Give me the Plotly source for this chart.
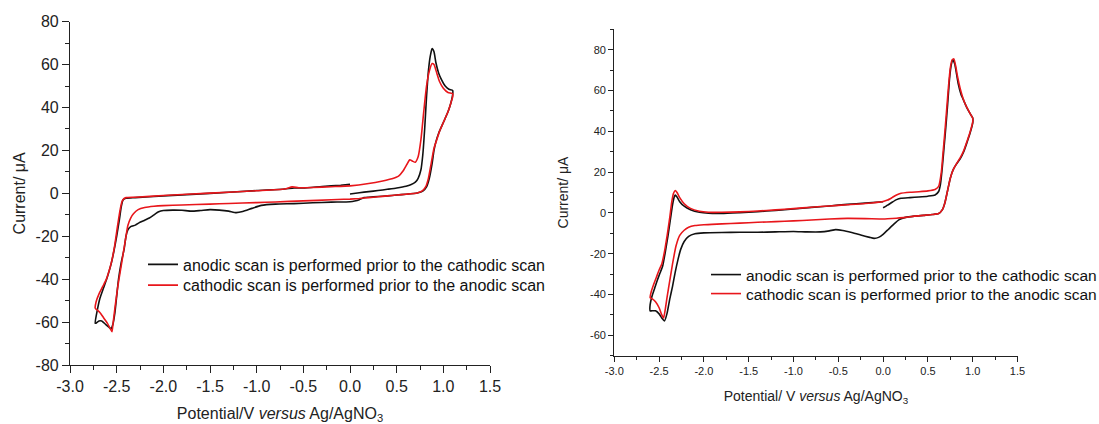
import plotly.graph_objects as go

# ---------------- Left panel data ----------------
left_black_v = [0.00, 0.10, 0.20, 0.30, 0.40, 0.50, 0.60, 0.65, 0.70, 0.73, 0.76, 0.78, 0.80, 0.82, 0.84, 0.86, 0.88, 0.90, 0.92, 0.95, 0.98, 1.02, 1.06, 1.10,
                1.10, 1.08, 1.05, 1.00, 0.95, 0.92, 0.90, 0.88, 0.85, 0.82, 0.78, 0.72, 0.60, 0.50, 0.40, 0.30, 0.20, 0.15, 0.10, 0.05, 0.00,
                -0.20, -0.40, -0.60, -0.80, -0.95, -1.05, -1.15, -1.22, -1.30, -1.40, -1.50, -1.60, -1.70, -1.80, -1.90, -2.00, -2.05, -2.10, -2.15, -2.20, -2.25, -2.30, -2.35, -2.38, -2.40, -2.42, -2.45, -2.48, -2.50, -2.52, -2.54, -2.56, -2.58, -2.62, -2.66, -2.69, -2.72, -2.73,
                -2.71, -2.68, -2.64, -2.60, -2.56, -2.53, -2.50, -2.47, -2.45, -2.43, -2.40, -2.30, -2.00, -1.50, -1.00, -0.70, -0.60, -0.50, -0.30, -0.10, 0.00]
left_black_i = [-0.3, 0.3, 0.8, 1.3, 1.9, 2.5, 3.3, 4.0, 5.2, 7.0, 11.0, 18.0, 30.0, 45.0, 57.0, 64.0, 67.5, 66.0, 61.0, 56.0, 53.0, 50.0, 48.5, 48.0,
                46.0, 42.0, 38.0, 33.0, 28.0, 24.0, 20.0, 14.0, 7.0, 3.0, 1.0, 0.2, -0.4, -0.8, -1.2, -1.5, -1.8, -2.0, -3.0, -3.6, -3.9,
                -4.1, -4.4, -4.8, -5.0, -5.6, -7.0, -8.5, -9.0, -8.3, -7.8, -7.6, -8.0, -8.3, -7.9, -7.8, -8.0, -8.6, -10.0, -11.5, -12.5, -13.5, -14.8, -15.5, -17.0, -20.0, -26.0, -32.0, -40.0, -48.0, -56.0, -61.0, -63.0, -62.5, -61.0, -59.5, -59.5, -60.5, -60.5,
                -55.0, -49.0, -44.0, -39.0, -33.0, -27.0, -20.0, -12.0, -6.0, -3.0, -2.3, -2.0, -1.2, 0.0, 1.3, 2.0, 2.5, 2.5, 3.2, 3.8, 4.2]

left_red_v = [0.00, -0.20, -0.50, -0.80, -1.00, -1.30, -1.50, -1.80, -2.00, -2.10, -2.20, -2.27, -2.32, -2.35, -2.38, -2.40, -2.43, -2.46, -2.49, -2.52, -2.54, -2.55, -2.57, -2.60, -2.64, -2.68, -2.72, -2.73,
              -2.72, -2.69, -2.65, -2.61, -2.58, -2.55, -2.52, -2.49, -2.46, -2.44, -2.42, -2.40, -2.30, -2.00, -1.50, -1.00, -0.70, -0.62, -0.55, -0.40, -0.20, 0.00, 0.20, 0.35, 0.45, 0.52, 0.57, 0.61, 0.64, 0.67, 0.70, 0.73, 0.76, 0.79, 0.82, 0.85, 0.88, 0.90, 0.93, 0.96, 1.00, 1.05, 1.10,
              1.10, 1.08, 1.05, 1.00, 0.96, 0.93, 0.90, 0.87, 0.84, 0.81, 0.77, 0.72, 0.60, 0.50, 0.40, 0.30, 0.20, 0.10, 0.00]
left_red_i = [-2.6, -3.0, -3.5, -4.0, -4.3, -4.7, -5.0, -5.4, -5.7, -6.0, -6.6, -7.6, -9.5, -11.5, -15.0, -20.0, -28.0, -36.0, -44.0, -54.0, -61.0, -64.5, -63.0, -60.5, -58.0, -55.5, -54.0, -53.5,
              -50.5, -47.0, -43.5, -40.0, -36.0, -31.0, -24.0, -15.0, -7.0, -3.5, -2.4, -2.0, -1.8, -1.0, 0.1, 1.2, 2.0, 3.0, 2.6, 2.7, 3.1, 3.5, 4.6, 5.8, 6.8, 8.0, 10.5, 13.5, 15.6, 15.0, 14.5, 17.0, 25.0, 38.0, 50.0, 57.0, 60.5, 60.0, 56.0, 52.0, 49.0, 47.0, 46.5,
              45.0, 42.0, 38.0, 33.0, 29.0, 25.0, 21.0, 14.0, 7.0, 3.0, 1.0, 0.2, -0.4, -0.8, -1.2, -1.6, -2.0, -2.4, -2.7]

# ---------------- Right panel data ----------------
right_black_v = [0.00, 0.05, 0.10, 0.15, 0.20, 0.30, 0.40, 0.50, 0.58, 0.62, 0.64, 0.66, 0.68, 0.70, 0.72, 0.74, 0.76, 0.78, 0.80, 0.82, 0.84, 0.87, 0.90, 0.93, 0.96, 1.00,
                 1.00, 0.97, 0.94, 0.90, 0.86, 0.82, 0.78, 0.75, 0.72, 0.69, 0.66, 0.62, 0.55, 0.45, 0.35, 0.25, 0.18, 0.12, 0.06, 0.00, -0.05, -0.10, -0.15, -0.25, -0.35, -0.45, -0.53, -0.60, -0.70, -0.85, -1.00, -1.20, -1.40, -1.60, -1.80, -2.00, -2.10, -2.17, -2.22, -2.26, -2.29, -2.32, -2.35, -2.38, -2.41, -2.44, -2.47, -2.50, -2.54, -2.58, -2.60,
                 -2.60, -2.58, -2.55, -2.52, -2.49, -2.46, -2.43, -2.40, -2.37, -2.35, -2.33, -2.32, -2.30, -2.27, -2.22, -2.15, -2.05, -1.95, -1.80, -1.60, -1.40, -1.20, -1.00, -0.80, -0.60, -0.40, -0.20, 0.00]
right_black_i = [2.5, 3.8, 5.2, 6.5, 7.2, 7.5, 7.8, 8.2, 8.8, 10.5, 14.0, 22.0, 32.0, 42.0, 53.0, 65.0, 72.5, 75.0, 73.0, 68.0, 63.0, 58.0, 55.0, 52.0, 49.5, 46.5,
                 44.0, 39.0, 35.0, 30.0, 26.5, 24.0, 21.0, 17.0, 11.0, 5.0, 1.5, -0.3, -0.8, -1.2, -1.6, -2.2, -3.3, -5.5, -8.0, -10.5, -12.0, -12.5, -12.0, -10.8, -9.6, -8.6, -8.2, -8.8, -9.3, -9.3, -9.1, -9.3, -9.5, -9.5, -9.6, -9.8, -10.2, -11.5, -14.0, -18.0, -23.0, -29.0, -36.0, -42.0, -49.0, -53.0, -51.5, -49.5, -48.0, -48.0, -48.0,
                 -45.0, -41.0, -37.0, -33.0, -29.5, -26.0, -19.0, -11.0, -2.0, 4.0, 8.0, 8.7, 7.8, 5.5, 3.3, 1.6, 0.3, -0.2, -0.3, 0.1, 0.6, 1.2, 1.9, 2.7, 3.4, 4.2, 4.8, 5.5]

right_red_v = [0.00, -0.20, -0.40, -0.60, -0.80, -1.00, -1.20, -1.40, -1.60, -1.80, -2.00, -2.10, -2.17, -2.22, -2.27, -2.31, -2.35, -2.38, -2.41, -2.43, -2.45, -2.47, -2.50, -2.54, -2.58, -2.60,
               -2.59, -2.56, -2.53, -2.50, -2.47, -2.44, -2.41, -2.38, -2.36, -2.34, -2.32, -2.30, -2.27, -2.22, -2.15, -2.05, -1.95, -1.80, -1.60, -1.40, -1.20, -1.00, -0.80, -0.60, -0.40, -0.20, 0.00, 0.05, 0.10, 0.15, 0.20, 0.30, 0.40, 0.50, 0.58, 0.62, 0.65, 0.67, 0.69, 0.71, 0.73, 0.75, 0.77, 0.79, 0.81, 0.83, 0.86, 0.89, 0.92, 0.95, 0.98, 1.00,
               1.00, 0.97, 0.94, 0.90, 0.86, 0.82, 0.78, 0.75, 0.72, 0.69, 0.66, 0.62, 0.55, 0.45, 0.35, 0.25, 0.15, 0.05, 0.00]
right_red_i = [-3.0, -2.8, -2.7, -3.0, -3.5, -3.9, -4.3, -4.6, -5.0, -5.4, -5.8, -6.2, -7.0, -8.5, -11.0, -16.0, -25.0, -33.0, -41.0, -47.0, -51.5, -50.0, -46.5, -43.5, -42.0, -41.5,
               -39.0, -35.0, -31.5, -28.0, -25.0, -19.0, -11.0, -2.0, 5.0, 9.5, 11.0, 10.0, 7.5, 4.5, 2.2, 0.8, 0.3, 0.3, 0.5, 0.9, 1.5, 2.1, 2.8, 3.4, 4.0, 4.6, 5.6, 6.3, 7.5, 8.8, 9.6, 10.1, 10.4, 10.8, 11.5, 13.0, 20.0, 30.0, 40.0, 51.0, 62.0, 71.0, 75.0, 75.5, 72.0, 67.0, 61.0, 56.5, 53.0, 50.5, 48.0, 46.5,
               44.5, 39.5, 35.5, 30.5, 27.0, 24.2, 21.0, 17.0, 11.0, 5.0, 1.5, -0.3, -0.8, -1.2, -1.6, -2.2, -2.6, -2.9, -3.0]

# ---------------- Tick labels and texts ----------------
x_tick_vals = [-3.0, -2.5, -2.0, -1.5, -1.0, -0.5, 0.0, 0.5, 1.0, 1.5]
x_tick_text = ["-3.0", "-2.5", "-2.0", "-1.5", "-1.0", "-0.5", "0.0", "0.5", "1.0", "1.5"]
yl_tick_vals = [-80, -60, -40, -20, 0, 20, 40, 60, 80]
yl_tick_text = ["-80", "-60", "-40", "-20", "0", "20", "40", "60", "80"]
yr_tick_vals = [-60, -40, -20, 0, 20, 40, 60, 80]
yr_tick_text = ["-60", "-40", "-20", "0", "20", "40", "60", "80"]

legend_labels = ["anodic scan is performed prior to the cathodic scan",
                 "cathodic scan is performed prior to the anodic scan"]
x_title_left = "Potential/V <i>versus</i> Ag/AgNO<sub>3</sub>"
x_title_right = "Potential/ V <i>versus</i> Ag/AgNO<sub>3</sub>"
y_title = "Current/ \u03bcA"

BLACK = "#111111"
RED = "#e8161b"
FONT = "Liberation Sans, Arial, sans-serif"
AXC = "#222222"

fig = go.Figure()
traces = [
    (left_black_v, left_black_i, BLACK, legend_labels[0], "x", "y", "legend"),
    (left_red_v, left_red_i, RED, legend_labels[1], "x", "y", "legend2"),
    (right_black_v, right_black_i, BLACK, legend_labels[0], "x2", "y2", "legend3"),
    (right_red_v, right_red_i, RED, legend_labels[1], "x2", "y2", "legend4"),
]
for xv, yv, col, name, xa, ya, lg in traces:
    fig.add_trace(go.Scatter(x=xv, y=yv, mode="lines", name=name,
                             line=dict(color=col, width=1.6, shape="spline", smoothing=0.5),
                             xaxis=xa, yaxis=ya, legend=lg))

W, H = 1099, 424

def ax_common(fs, ticklen, minorlen, minor_dtick):
    return dict(showline=True, linecolor=AXC, linewidth=1.2, mirror=False, showgrid=False, zeroline=False,
                automargin=False, ticks="outside", ticklen=ticklen, tickwidth=1.2, tickcolor=AXC,
                tickfont=dict(size=fs, color=AXC, family=FONT), tickmode="array",
                minor=dict(ticks="outside", ticklen=minorlen, dtick=minor_dtick, tick0=0,
                           tickcolor=AXC, tickwidth=1.2, showgrid=False))

xl = ax_common(16, 7, 4, 0.25)
xl.update(domain=[70 / W, 490 / W], range=[-3.0, 1.5], tickvals=x_tick_vals, ticktext=x_tick_text,
          title=dict(text=x_title_left, font=dict(size=16, color=AXC, family=FONT), standoff=16), anchor="y")
yl = ax_common(16, 7, 4, 10)
yl.update(domain=[1 - 365 / H, 1 - 21.7 / H], range=[-80, 80], tickvals=yl_tick_vals, ticktext=yl_tick_text,
          title=dict(text=y_title, font=dict(size=16, color=AXC, family=FONT), standoff=5), anchor="x")
xr = ax_common(11, 5, 3, 0.25)
xr.update(domain=[614.3 / W, 1017.5 / W], range=[-3.0, 1.5], tickvals=x_tick_vals, ticktext=x_tick_text,
          title=dict(text=x_title_right, font=dict(size=14, color=AXC, family=FONT), standoff=15), anchor="y2")
yr = ax_common(11, 5, 3, 10)
yr.update(domain=[1 - 355.7 / H, 1 - 29.3 / H], range=[-70, 90], tickvals=yr_tick_vals, ticktext=yr_tick_text,
          title=dict(text=y_title, font=dict(size=14, color=AXC, family=FONT), standoff=18), anchor="x2")

def leg(x_px, top_px, fs):
    return dict(x=x_px / W, y=1 - top_px / H, xanchor="left", yanchor="top", bgcolor="rgba(0,0,0,0)",
                font=dict(size=fs, color="#111", family=FONT), itemwidth=30)

fig.update_layout(
    width=W, height=H, margin=dict(l=0, r=0, t=0, b=0, autoexpand=False),
    paper_bgcolor="white", plot_bgcolor="white",
    font=dict(family=FONT, color="#111"),
    xaxis=xl, yaxis=yl, xaxis2=xr, yaxis2=yr,
    legend=leg(143, 247.5, 16),
    legend2=leg(143, 268.2, 16),
    legend3=leg(706, 258.0, 15.5),
    legend4=leg(706, 277.0, 15.5),
    showlegend=True,
)

fig.write_html("out.html")
